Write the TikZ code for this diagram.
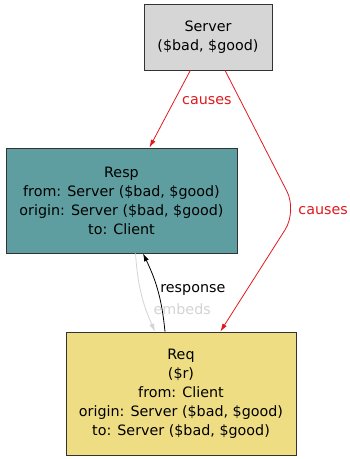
\documentclass[tikz,border=0pt]{standalone}
\usepackage{fontspec}
\setmainfont{DejaVu Sans}
\usetikzlibrary{arrows.meta}
\definecolor{causered}{RGB}{225,25,30}
\definecolor{servergray}{RGB}{214,214,214}
\definecolor{respblue}{RGB}{95,158,160}
\definecolor{reqyellow}{RGB}{238,221,130}
\definecolor{embedgray}{RGB}{211,211,211}
\begin{document}
\begin{tikzpicture}[x=1pt,y=1pt,>={Latex[length=8pt,width=5pt]}]
        \useasboundingbox (0,0) rectangle (349,-459);
        \begin{scope}[every node/.style={rectangle,draw=black!80,line width=0.8pt,align=center,inner sep=0pt,font=\fontsize{14.3}{19}\selectfont}]
          \node[fill=servergray,minimum width=128pt,minimum height=66pt] (server) at (208,-37) {Server\\(\$bad, \$good)};
          \node[fill=respblue,minimum width=231pt,minimum height=105pt] (resp) at (121.5,-200.5) {Resp\\from: Server (\$bad, \$good)\\origin: Server (\$bad, \$good)\\to: Client};
          \node[fill=reqyellow,minimum width=230pt,minimum height=123pt] (req) at (181,-393.5) {Req\\(\$r)\\from: Client\\origin: Server (\$bad, \$good)\\to: Server (\$bad, \$good)};
        \end{scope}
        \coordinate (bend) at (297,-211);
        \begin{scope}[every node/.style={font=\fontsize{14.3}{16}\selectfont,inner sep=0pt}]
          \path (server) edge[->,draw=causered,line width=0.8pt] node[pos=0.38,anchor=west,xshift=7pt,yshift=-1pt,text=causered] {causes} (resp);
          \draw[->,causered,line width=0.8pt,rounded corners=22pt] (server) -- (bend) node[anchor=west,xshift=1pt,text=causered] {causes} -- (req);
          \path ([xshift=-16pt]req.north) edge[->,draw=black,line width=0.8pt,bend right=10] node[anchor=west,xshift=2pt,yshift=1pt] {response} ([xshift=21.5pt]resp.south);
          \path ([xshift=14pt]resp.south) edge[->,draw=embedgray,line width=0.8pt,bend right=10] node[anchor=west,xshift=12pt,yshift=-16pt,text=embedgray] {embeds} ([xshift=-26pt]req.north);
        \end{scope}
      \end{tikzpicture}
\end{document}
